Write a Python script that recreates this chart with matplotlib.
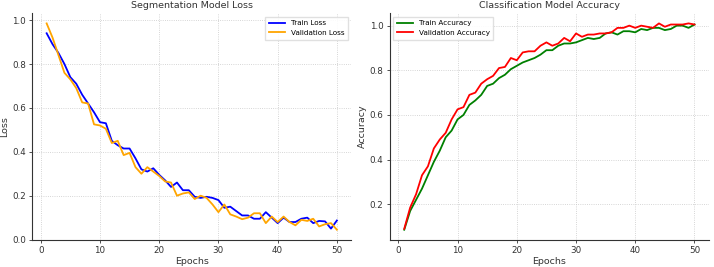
import numpy as np
import matplotlib
matplotlib.use("Agg")
import matplotlib.pyplot as plt

# values
epochs = np.arange(1, 51)

train_loss = [0.94, 0.89, 0.85, 0.80, 0.74, 0.71, 0.66, 0.62, 0.58, 0.535,
              0.53, 0.45, 0.43, 0.415, 0.415, 0.37, 0.32, 0.31, 0.325, 0.295,
              0.27, 0.24, 0.26, 0.225, 0.225, 0.195, 0.19, 0.195, 0.19, 0.18,
              0.145, 0.15, 0.13, 0.11, 0.11, 0.095, 0.095, 0.125, 0.10, 0.075,
              0.10, 0.08, 0.08, 0.095, 0.10, 0.075, 0.085, 0.083, 0.05, 0.087]

val_loss = [0.985, 0.92, 0.84, 0.76, 0.73, 0.69, 0.625, 0.62, 0.525, 0.52,
            0.505, 0.44, 0.45, 0.385, 0.395, 0.33, 0.30, 0.33, 0.31, 0.29,
            0.265, 0.26, 0.20, 0.21, 0.215, 0.185, 0.20, 0.19, 0.16, 0.125,
            0.16, 0.115, 0.105, 0.093, 0.10, 0.12, 0.12, 0.075, 0.105, 0.08,
            0.105, 0.08, 0.065, 0.09, 0.085, 0.095, 0.06, 0.07, 0.075, 0.045]

train_acc = [0.086, 0.17, 0.22, 0.27, 0.33, 0.39, 0.44, 0.50, 0.53, 0.58,
             0.60, 0.645, 0.665, 0.69, 0.73, 0.74, 0.765, 0.78, 0.805, 0.82,
             0.835, 0.845, 0.855, 0.87, 0.89, 0.89, 0.91, 0.92, 0.92, 0.925,
             0.935, 0.945, 0.94, 0.945, 0.965, 0.97, 0.96, 0.975, 0.975, 0.97,
             0.985, 0.98, 0.99, 0.99, 0.98, 0.985, 1.0, 1.0, 0.99, 1.005]

val_acc = [0.09, 0.185, 0.245, 0.33, 0.37, 0.45, 0.49, 0.52, 0.58, 0.625,
           0.635, 0.69, 0.70, 0.74, 0.76, 0.775, 0.81, 0.815, 0.855, 0.845,
           0.88, 0.885, 0.885, 0.91, 0.925, 0.91, 0.92, 0.945, 0.93, 0.965,
           0.95, 0.96, 0.96, 0.965, 0.965, 0.97, 0.99, 0.99, 1.0, 0.99,
           1.0, 0.995, 0.99, 1.01, 0.995, 1.005, 1.005, 1.005, 1.01, 1.005]

plt.rcParams['font.family'] = 'DejaVu Sans'
plt.rcParams['axes.linewidth'] = 0.8

fig, (ax1, ax2) = plt.subplots(1, 2, figsize=(7.14, 2.67), dpi=100)
fig.subplots_adjust(left=0.045, right=0.993, bottom=0.101, top=0.951, wspace=0.12)


def style_axes(ax, title, ylabel):
    ax.set_title(title, fontsize=6.8, color='#333333', pad=4)
    ax.set_xlabel("Epochs", fontsize=6.8, color='#333333', labelpad=1)
    ax.set_ylabel(ylabel, fontsize=6.8, color='#333333', labelpad=2)
    ax.tick_params(axis='both', labelsize=6.3, colors='#333333', length=2.5, width=0.6, pad=2)
    ax.grid(True, linestyle=':', linewidth=0.6, color='#c8c8c8')
    ax.spines['top'].set_visible(False)
    ax.spines['right'].set_visible(False)
    for s in ('left', 'bottom'):
        ax.spines[s].set_color('#333333')
    ax.legend(fontsize=5.2, loc='upper right' if ax is ax1 else 'upper left',
              framealpha=0.9, edgecolor='#dddddd', fancybox=False,
              handlelength=2.2, borderpad=0.5)


ax1.plot(epochs, train_loss, color='blue', linewidth=1.3, label='Train Loss')
ax1.plot(epochs, val_loss, color='orange', linewidth=1.3, label='Validation Loss')
style_axes(ax1, "Segmentation Model Loss", "Loss")

ax2.plot(epochs, train_acc, color='green', linewidth=1.3, label='Train Accuracy')
ax2.plot(epochs, val_acc, color='red', linewidth=1.3, label='Validation Accuracy')
style_axes(ax2, "Classification Model Accuracy", "Accuracy")

fig.savefig("out.png", dpi=100)
